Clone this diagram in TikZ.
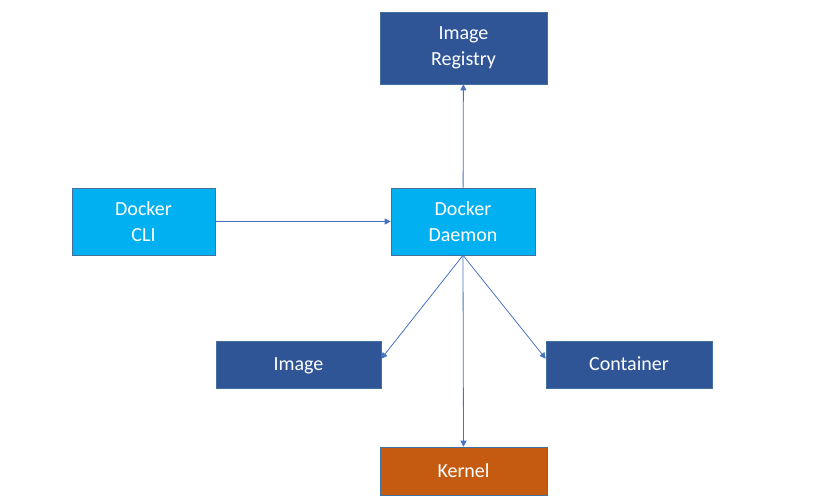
\documentclass[tikz,border=0pt]{standalone}
\usepackage{fontspec}
\setmainfont{Carlito}
\usetikzlibrary{arrows.meta}

\definecolor{darkbox}{HTML}{2F5597}
\definecolor{lightbox}{HTML}{00B0F0}
\definecolor{kernelbox}{HTML}{C55A11}
\definecolor{edgeline}{HTML}{4472C4}
\definecolor{boxrim}{HTML}{41719C}

\tikzset{
  block/.style={draw=boxrim, line width=0.6pt, text=white, align=center,
    font=\fontsize{20}{26}\selectfont, inner sep=0pt},
  oneline/.style={block, text height=13pt, text depth=0pt},
  link/.style={draw=edgeline, line width=0.8pt, -{Triangle[length=6pt,width=6pt]}}
}

\begin{document}
\begin{tikzpicture}[x=1pt, y=-1pt]

\useasboundingbox (0,0) rectangle (828,502);

\node[block, fill=darkbox, minimum width=167pt, minimum height=72pt](registry) at (463.5,48){Image\\Registry};
\node[block, fill=lightbox, minimum width=143pt, minimum height=67pt](cli) at (143.5,221.5){Docker\\CLI};
\node[block, fill=lightbox, minimum width=144pt, minimum height=67pt](daemon) at (463,221.5){Docker\\Daemon};
\node[oneline, fill=darkbox, minimum width=165pt, minimum height=47pt](image) at (298.5,364.5){Image};
\node[oneline, fill=darkbox, minimum width=166pt, minimum height=47pt](container) at (629,364.5){Container};
\node[oneline, fill=kernelbox, minimum width=167pt, minimum height=48pt](kernel) at (463.5,471){Kernel};

\draw[link](daemon)--(registry);
\draw[link](cli)--(daemon);
\draw[link](daemon.south)--(image.4);
\draw[link](daemon.south)--(container.176);
\draw[link](daemon.south)--(kernel.north);

\end{tikzpicture}
\end{document}
